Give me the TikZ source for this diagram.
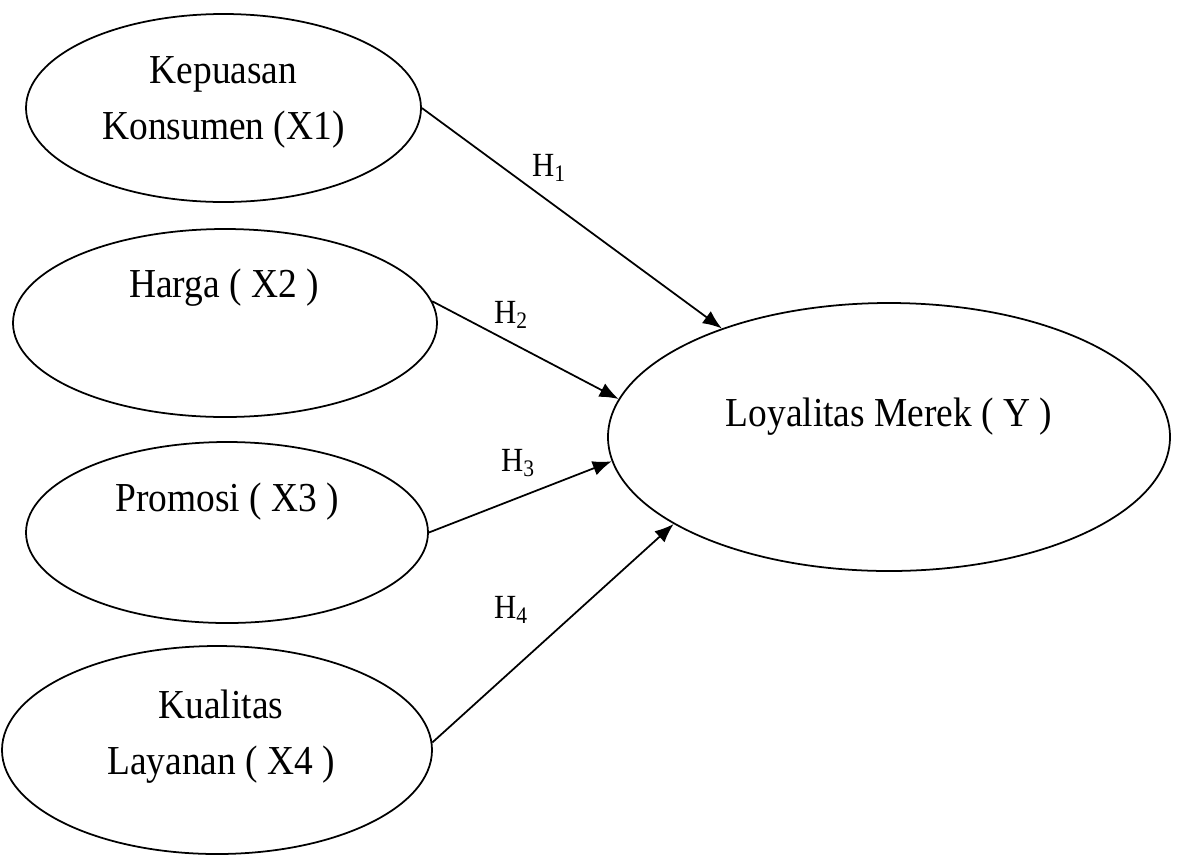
\documentclass[tikz,border=0pt]{standalone}
\usepackage{fontspec}
\setmainfont{Liberation Serif}
\usetikzlibrary{positioning}
\usetikzlibrary{arrows.meta, shapes.geometric}

\tikzset{
    var/.style={ellipse, draw, line width=1pt, inner sep=0pt},
    vartext/.style={align=center, font=\fontsize{21.3}{29}\selectfont, yscale=1.1, transform shape},
    hyp/.style={font=\fontsize{17.5}{20}\selectfont, yscale=1.1, transform shape},
    link/.style={line width=1pt, -{Latex[length=0.38cm, width=0.3cm]}}
}

\begin{document}
\begin{tikzpicture}
    % khung hinh
    \useasboundingbox (0,0) rectangle (23.56,-17.08);

    % bien doc lap X1 - X4
    \node[var, minimum width=7.9cm, minimum height=3.76cm] (x1) at (4.47,-2.16) {};
    \node[vartext] (t1) at (4.47,-2.04) {Kepuasan\\Konsumen (X1)};

    \node[var, minimum width=8.48cm, minimum height=3.76cm] (x2) at (4.5,-6.46) {};
    \node[vartext] (t2) at (4.48,-5.76) {Harga ( X2 )};

    \node[var, minimum width=8.04cm, minimum height=3.62cm] (x3) at (4.54,-10.65) {};
    \node[vartext] (t3) at (4.54,-10.04) {Promosi ( X3 )};

    \node[var, minimum width=8.6cm, minimum height=4.16cm] (x4) at (4.34,-15.0) {};
    \node[vartext] (t4) at (4.42,-14.73) {Kualitas\\Layanan ( X4 )};

    % bien terikat Y
    \node[var, minimum width=11.24cm, minimum height=5.36cm] (y) at (17.78,-8.74) {};
    \node[vartext] (ty) at (17.78,-8.34) {Loyalitas Merek ( Y )};

    % panah hipotesis
    \draw[link] (x1.east) -- (y.147);
    \draw[link] (x2.6) -- (y.172);
    \draw[link] (x3.east) -- (y.185);
    \draw[link] (x4.2) -- (y.202);

    % label H1 - H4
    \node[hyp] (h1) at (10.98,-3.36) {H\textsubscript{1}};
    \node[hyp] (h2) at (10.22,-6.3) {H\textsubscript{2}};
    \node[hyp] (h3) at (10.36,-9.26) {H\textsubscript{3}};
    \node[hyp] (h4) at (10.22,-12.2) {H\textsubscript{4}};
\end{tikzpicture}
\end{document}
